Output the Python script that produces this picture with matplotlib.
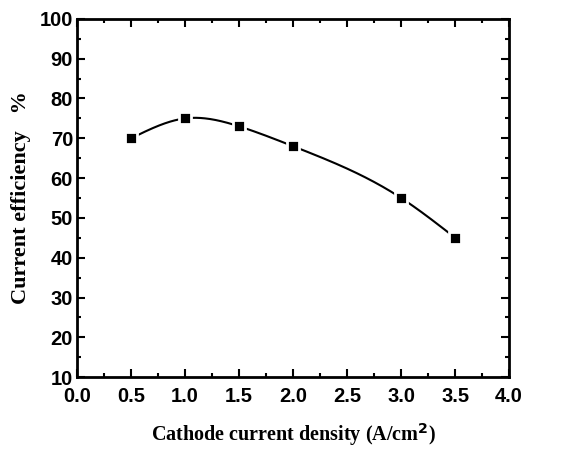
import numpy as np
import matplotlib.pyplot as plt
from matplotlib.ticker import MultipleLocator

# data
density = [0.5, 1.0, 1.5, 2.0, 3.0, 3.5]
efficiency = [70, 75, 73, 68, 55, 45]


def natural_spline(x, y, xs):
    # plain natural cubic spline, only used to draw the smooth connecting line
    x = np.asarray(x, float)
    y = np.asarray(y, float)
    n = len(x)
    h = np.diff(x)
    A = np.zeros((n, n))
    b = np.zeros(n)
    A[0, 0] = A[-1, -1] = 1
    for i in range(1, n - 1):
        A[i, i - 1] = h[i - 1]
        A[i, i] = 2 * (h[i - 1] + h[i])
        A[i, i + 1] = h[i]
        b[i] = 3 * ((y[i + 1] - y[i]) / h[i] - (y[i] - y[i - 1]) / h[i - 1])
    c = np.linalg.solve(A, b)
    out = np.empty_like(xs)
    for k, xv in enumerate(xs):
        i = min(max(np.searchsorted(x, xv) - 1, 0), n - 2)
        dx = xv - x[i]
        bb = (y[i + 1] - y[i]) / h[i] - h[i] * (2 * c[i] + c[i + 1]) / 3
        d = (c[i + 1] - c[i]) / (3 * h[i])
        out[k] = y[i] + bb * dx + c[i] * dx ** 2 + d * dx ** 3
    return out


fig = plt.figure(figsize=(5.76, 4.49), dpi=100)
ax = fig.add_axes([0.134, 0.160, 0.750, 0.798])

xs = np.linspace(density[0], density[-1], 300)
ax.plot(xs, natural_spline(density, efficiency, xs), color='black', lw=1.5, zorder=2)
ax.plot(density, efficiency, 's', color='black', ms=9, mec='white', mew=2.0, zorder=3)

ax.set_xlim(0, 4)
ax.set_ylim(10, 100)
ax.xaxis.set_major_locator(MultipleLocator(0.5))
ax.xaxis.set_minor_locator(MultipleLocator(0.25))
ax.yaxis.set_major_locator(MultipleLocator(10))
ax.yaxis.set_minor_locator(MultipleLocator(5))
ax.tick_params(which='both', direction='in', top=True, right=True, width=1.5)
ax.tick_params(which='major', length=6, labelsize=14.5, pad=3)
ax.tick_params(axis='x', which='major', pad=7)
ax.tick_params(which='minor', length=3)
for lab in ax.get_xticklabels() + ax.get_yticklabels():
    lab.set_fontfamily('Liberation Sans')
    lab.set_fontweight('bold')
for s in ax.spines.values():
    s.set_linewidth(2)

ax.set_xlabel('Cathode current density (A/cm$^\\mathbf{2}$)', fontfamily='Liberation Serif',
              fontweight='bold', fontsize=14.5, labelpad=11)
ax.set_ylabel('Current efficiency   %', fontfamily='Liberation Serif',
              fontweight='bold', fontsize=16, labelpad=6)

fig.savefig('out.png', dpi=100)
